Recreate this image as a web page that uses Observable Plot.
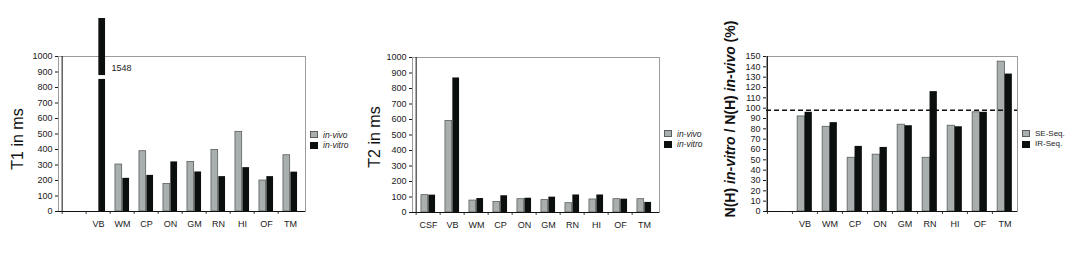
<!DOCTYPE html>
<html><head><meta charset="utf-8">
<script src="https://cdn.jsdelivr.net/npm/d3@7"></script>
<script src="https://cdn.jsdelivr.net/npm/@observablehq/plot@0.6"></script>
<style>
html,body{margin:0;padding:0;background:#fff;}
#root{position:relative;width:1073px;height:254px;overflow:hidden;font-family:"Liberation Sans",Arial,sans-serif;}
.panel{position:absolute;top:0;}
.ytitle{position:absolute;white-space:nowrap;transform:translate(-50%,-50%) rotate(-90deg);color:#111;line-height:1;}
.lg{position:absolute;white-space:nowrap;color:#222;line-height:1;}
.sw{position:absolute;box-sizing:border-box;}
</style></head><body><div id="root"></div>
<script>
// ---------- data ----------
const t1Categories = ["", "VB", "WM", "CP", "ON", "GM", "RN", "HI", "OF", "TM"];
const t1InVivo  = [null, null, 303, 389, 177, 320, 397, 514, 200, 363];
const t1InVitro = [null, 1548, 214, 233, 320, 255, 225, 283, 225, 254];
const t1Ticks = [0, 100, 200, 300, 400, 500, 600, 700, 800, 900, 1000];
const t1Break = [852, 877];
const t1BrokenTop = 1245; // drawn height of the broken bar, in axis units

const t2Categories = ["CSF", "VB", "WM", "CP", "ON", "GM", "RN", "HI", "OF", "TM"];
const t2InVivo  = [112, 590, 77, 68, 86, 80, 60, 84, 86, 86];
const t2InVitro = [112, 868, 90, 108, 92, 99, 113, 113, 86, 65];
const t2Ticks = [0, 100, 200, 300, 400, 500, 600, 700, 800, 900, 1000];

const nhCategories = ["", "VB", "WM", "CP", "ON", "GM", "RN", "HI", "OF", "TM"];
const nhSE = [null, 92, 82, 52, 55, 84, 52, 83, 96, 145];
const nhIR = [null, 96, 86, 63, 62, 83, 116, 82, 96, 133];
const nhTicks = [0, 10, 20, 30, 40, 50, 60, 70, 80, 90, 100, 110, 120, 130, 140, 150];
const nhReference = 98;

const legendT = ["in-vivo", "in-vitro"];
const legendNH = ["SE-Seq.", "IR-Seq."];

// ---------- style ----------
const H = 254;
const GRAY = "#a9aeae", GRAY_STROKE = "#5a5e5e", BLACK = "#0b0f0d", FRAME = "#9c9c9c";
const BAR_W = 7.4;
const root = document.getElementById("root");

function rows(cats, vals) {
  return cats.map((c, i) => ({cat: c, v: vals[i]})).filter(d => d.v != null);
}

function makePanel(o) {
  const bw = (o.width - o.marginLeft - o.marginRight) / o.cats.length;
  const half = bw / 2;
  const marks = [
    Plot.frame({stroke: FRAME}),
    Plot.ruleX(o.cats, {x: d => d, y1: () => 0, y2: () => 0, dx: -half, insetBottom: -3, stroke: "#444"}),
    Plot.barY(rows(o.cats, o.a), {x: "cat", y: "v", fill: GRAY, stroke: GRAY_STROKE, strokeWidth: 0.8,
      insetLeft: half - BAR_W, insetRight: half}),
    Plot.barY(rows(o.cats, o.b), {x: "cat", y: "v", fill: BLACK,
      insetLeft: half, insetRight: half - BAR_W}),
    ...o.after(half),
    Plot.ruleY([0], {stroke: "#111"}),
    Plot.ruleX([o.cats[0]], {x: d => d, dx: -half, stroke: "#111"})
  ];
  const svg = Plot.plot({
    width: o.width, height: H,
    marginLeft: o.marginLeft, marginRight: o.marginRight, marginTop: o.marginTop, marginBottom: o.marginBottom,
    style: {fontFamily: "'Liberation Sans', Arial, sans-serif", fontSize: "9px", color: "#1a1a1a", background: "transparent", overflow: "visible"},
    x: {type: "band", domain: o.cats, padding: 0, tickSize: 0, tickPadding: 9, label: null},
    y: Object.assign({ticks: o.ticks, tickSize: 3, tickPadding: 3, tickFormat: d3.format("d"), label: null}, o.y),
    marks
  });
  const div = document.createElement("div");
  div.className = "panel";
  div.style.left = o.left + "px";
  div.appendChild(svg);
  root.appendChild(div);
}

function yTitle(html, cx, cy, size, bold) {
  const d = document.createElement("div");
  d.className = "ytitle";
  d.style.left = cx + "px"; d.style.top = cy + "px";
  d.style.fontSize = size + "px";
  d.style.fontWeight = bold ? "bold" : "normal";
  d.innerHTML = html;
  root.appendChild(d);
}

function legend(x, y, labels, italic, size) {
  const fills = [[GRAY, GRAY_STROKE], [BLACK, BLACK]];
  labels.forEach((lab, i) => {
    const top = y + i * 10.5;
    const s = document.createElement("div");
    s.className = "sw";
    Object.assign(s.style, {left: x + "px", top: top + "px", width: "8px", height: "7px",
      background: fills[i][0], border: "1px solid " + fills[i][1]});
    root.appendChild(s);
    const t = document.createElement("div");
    t.className = "lg";
    Object.assign(t.style, {left: (x + 13) + "px", top: (top - 0.5) + "px", fontSize: size + "px",
      fontStyle: italic ? "italic" : "normal"});
    t.textContent = lab;
    root.appendChild(t);
  });
}

// ---------- panel 1: T1 (broken axis above 1000) ----------
const t1Max = t1Ticks[t1Ticks.length - 1];
const t1MaxVal = d3.max(t1InVitro);
const t1Squash = v => v > t1Max ? t1Max + (v - t1Max) * (t1BrokenTop - t1Max) / (t1MaxVal - t1Max) : v;
const t1Broken = rows(t1Categories, t1InVitro).filter(d => d.v > t1Max);
makePanel({
  left: 0, width: 360, marginLeft: 58, marginRight: 55, marginTop: 56, marginBottom: 43,
  cats: t1Categories, a: t1InVivo, b: t1InVitro, ticks: t1Ticks,
  y: {domain: [0, t1Max], transform: t1Squash},
  after: (half) => [
    Plot.barY(t1Broken, {x: "cat", y1: () => t1Break[0], y2: () => t1Break[1], fill: "white",
      insetLeft: half - 1, insetRight: half - BAR_W - 1}),
    Plot.text(t1Broken, {x: "cat", y: () => (t1Break[0] + t1Break[1]) / 2, text: d => String(d.v),
      textAnchor: "start", dx: 13, dy: -9, fontSize: 9, fill: "#1a1a1a"})
  ]
});
yTitle("T1 in ms", 17.5, 139, 16, false);
legend(310, 131, legendT, true, 8.5);

// ---------- panel 2: T2 ----------
makePanel({
  left: 360, width: 360, marginLeft: 52, marginRight: 61, marginTop: 57, marginBottom: 42,
  cats: t2Categories, a: t2InVivo, b: t2InVitro, ticks: t2Ticks,
  y: {domain: [0, t2Ticks[t2Ticks.length - 1]]},
  after: () => []
});
yTitle("T2 in ms", 374.5, 137, 16, false);
legend(664, 130, legendT, true, 8.5);

// ---------- panel 3: N(H) ratio ----------
makePanel({
  left: 720, width: 353, marginLeft: 46, marginRight: 56, marginTop: 56, marginBottom: 43,
  cats: nhCategories, a: nhSE, b: nhIR, ticks: nhTicks,
  y: {domain: [0, nhTicks[nhTicks.length - 1]]},
  after: () => [
    Plot.ruleY([nhReference], {stroke: "#111", strokeWidth: 1.6, strokeDasharray: "5,3"})
  ]
});
yTitle("N(H) <i>in-vitro</i> / N(H) <i>in-vivo</i> (%)", 730, 119, 14, true);
legend(1022, 130, legendNH, false, 8);
</script>
</body></html>
